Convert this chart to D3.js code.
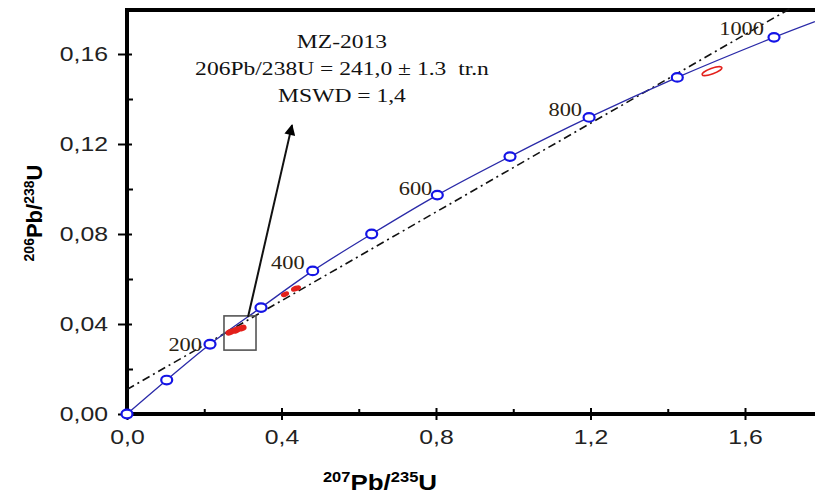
<!DOCTYPE html>
<html>
<head>
<meta charset="utf-8">
<script src="https://cdn.jsdelivr.net/npm/d3@7"></script>
<style>
  body { margin: 0; background: #fff; }
  svg { display: block; }
</style>
</head>
<body>
<svg id="chart"></svg>
<script>
// concordia points (207Pb/235U, 206Pb/238U)
var concAges = [0, 100, 200, 300, 400, 500, 600, 700, 800, 900, 1000];
var concX = [0, 0.1028, 0.2149, 0.3469, 0.4808, 0.6335, 0.8034, 0.9916, 1.1963, 1.4247, 1.6751];
var concY = [0, 0.0151, 0.0310, 0.0473, 0.0636, 0.0800, 0.0973, 0.1144, 0.1318, 0.1496, 0.1674];
// where the curve leaves the picture on the right
var concEndX = 1.781, concEndY = 0.1744;

// labelled ages
var labelAges = ["200", "400", "600", "800", "1000"];

// dash-dot discordia line, two end points
var discX = [0, 1.715];
var discY = [0.0109, 0.18];

// red error ellipses: centre x, centre y
var ellX = [0.2667, 0.2822, 0.2977, 0.4091, 0.4375, 1.5146];
var ellY = [0.0364, 0.0373, 0.0382, 0.0532, 0.0558, 0.1524];

// zoom box and arrow (data units)
var boxX = [0.2511, 0.3340], boxY = [0.0284, 0.0436];
var arrowX = [0.3133, 0.4272], arrowY = [0.0431, 0.1284];

var xTicks = [0, 0.4, 0.8, 1.2, 1.6], xMinor = [0.2, 0.6, 1.0, 1.4];
var yTicks = [0, 0.04, 0.08, 0.12, 0.16], yMinor = [0.02, 0.06, 0.10, 0.14];

var noteLines = ["MZ-2013", "206Pb/238U = 241,0 \u00b1 1.3\u00a0\u00a0tr.n", "MSWD = 1,4"];

var W = 815, H = 495;
var sx = 1.18; // picture is stretched sideways

var svg = d3.select("#chart").attr("width", W).attr("height", H);

var x = d3.scaleLinear().domain([0, 1.8]).range([127, 822.25]);
var y = d3.scaleLinear().domain([0, 0.18]).range([414, 9]);

var comma = function(n, k) { return n.toFixed(k).replace(".", ","); };

// ---- axes ----
var sans = "'Liberation Sans', Arial, sans-serif";

var gx = svg.append("g").attr("transform", "translate(0,414)")
    .call(d3.axisBottom(x).tickValues(xTicks).tickSize(6).tickPadding(9.5)
        .tickFormat(function(d) { return comma(d, 1); }));
gx.selectAll("text").attr("transform", "scale(" + sx + ",1)");
svg.append("g").attr("transform", "translate(0,414)")
    .call(d3.axisTop(x).tickValues(xTicks).tickSize(6).tickFormat(""));
svg.append("g").attr("transform", "translate(0,414)")
    .call(d3.axisTop(x).tickValues(xMinor).tickSize(5).tickFormat(""));

var gy = svg.append("g").attr("transform", "translate(127,0)")
    .call(d3.axisLeft(y).tickValues(yTicks).tickSize(9).tickPadding(10)
        .tickFormat(function(d) { return comma(d, 2); }));
gy.selectAll("text").attr("x", -19 / sx).attr("transform", "scale(" + sx + ",1)");
svg.append("g").attr("transform", "translate(127,0)")
    .call(d3.axisRight(y).tickValues(yTicks).tickSize(5).tickFormat(""));
svg.append("g").attr("transform", "translate(127,0)")
    .call(d3.axisRight(y).tickValues(yMinor).tickSize(6).tickFormat(""));

svg.selectAll(".domain").remove();
svg.selectAll(".tick line").attr("stroke", "#000").attr("stroke-width", 2);
svg.selectAll(".tick text").attr("fill", "#222").style("font-family", sans).style("font-size", "21px");

// frame: left, bottom, top
svg.append("path")
    .attr("d", "M" + W + "," + (y(0.18) + 1) + "H127V414H" + W)
    .attr("fill", "none").attr("stroke", "#000").attr("stroke-width", 4);

// axis titles
var xt = svg.append("text")
    .attr("transform", "translate(380,490) scale(" + sx + ",1)")
    .attr("text-anchor", "middle")
    .style("font-family", sans).style("font-weight", "bold").style("font-size", "22px");
xt.append("tspan").attr("dy", -8).style("font-size", "14px").text("207");
xt.append("tspan").attr("dy", 8).text("Pb/");
xt.append("tspan").attr("dy", -8).style("font-size", "14px").text("235");
xt.append("tspan").attr("dy", 8).text("U");

var yt = svg.append("text")
    .attr("transform", "translate(42,213) rotate(-90)")
    .attr("text-anchor", "middle")
    .style("font-family", sans).style("font-weight", "bold").style("font-size", "22px");
yt.append("tspan").attr("dy", -8).style("font-size", "14px").text("206");
yt.append("tspan").attr("dy", 8).text("Pb/");
yt.append("tspan").attr("dy", -8).style("font-size", "14px").text("238");
yt.append("tspan").attr("dy", 8).text("U");

// ---- discordia ----
svg.append("line")
    .attr("x1", x(discX[0])).attr("y1", y(discY[0]))
    .attr("x2", x(discX[1])).attr("y2", y(discY[1]))
    .attr("stroke", "#111").attr("stroke-width", 1.6)
    .attr("stroke-dasharray", "8,4,2,4");

// ---- concordia curve ----
var pts = concX.map(function(v, i) { return [v, concY[i]]; });
pts.push([concEndX, concEndY]);
svg.append("path")
    .datum(pts)
    .attr("d", d3.line().x(function(d) { return x(d[0]); }).y(function(d) { return y(d[1]); })
        .curve(d3.curveCatmullRom))
    .attr("fill", "none").attr("stroke", "#2a2aa8").attr("stroke-width", 1.3);

// ---- red ellipses ----
var ellSize = [[4, 2.4], [4, 2.6], [4, 2.4], [3.5, 1.8], [4.5, 2], [10.5, 2.8]];
svg.selectAll(".ell")
    .data(ellX)
    .enter().append("ellipse")
    .attr("class", "ell")
    .attr("transform", function(d, i) { return "translate(" + x(d) + "," + y(ellY[i]) + ") rotate(-20)"; })
    .attr("rx", function(d, i) { return ellSize[i][0]; })
    .attr("ry", function(d, i) { return ellSize[i][1]; })
    .attr("fill", function(d, i) { return i < 5 ? "#e3201b" : "none"; })
    .attr("stroke", "#e3201b").attr("stroke-width", 1.5);

// ---- box and arrow ----
svg.append("rect")
    .attr("x", x(boxX[0])).attr("y", y(boxY[1]))
    .attr("width", x(boxX[1]) - x(boxX[0])).attr("height", y(boxY[0]) - y(boxY[1]))
    .attr("fill", "none").attr("stroke", "#555").attr("stroke-width", 1.6);

svg.append("defs").append("marker")
    .attr("id", "head").attr("viewBox", "0 0 10 10")
    .attr("refX", 9).attr("refY", 5)
    .attr("markerWidth", 16).attr("markerHeight", 11)
    .attr("markerUnits", "userSpaceOnUse")
    .attr("orient", "auto")
    .append("path").attr("d", "M0,0L10,5L0,10Z").attr("fill", "#000");

svg.append("line")
    .attr("x1", x(arrowX[0])).attr("y1", y(arrowY[0]))
    .attr("x2", x(arrowX[1])).attr("y2", y(arrowY[1]))
    .attr("stroke", "#111").attr("stroke-width", 2)
    .attr("marker-end", "url(#head)");

// ---- concordia markers ----
svg.selectAll(".mk")
    .data(concX)
    .enter().append("ellipse")
    .attr("class", "mk")
    .attr("cx", function(d) { return x(d); })
    .attr("cy", function(d, i) { return y(concY[i]); })
    .attr("rx", 5.5).attr("ry", 4.3)
    .attr("fill", "#fff").attr("stroke", "#1414e6").attr("stroke-width", 2.2);

// ---- age labels ----
var serif = "'Liberation Serif', 'Times New Roman', serif";
var labelDx = [-8, -8, -5, -7, -10];
var labelDy = [7, -2, -0.5, -1, -2];
labelAges.forEach(function(a, i) {
    var k = concAges.indexOf(+a);
    svg.append("text")
        .attr("transform", "translate(" + (x(concX[k]) + labelDx[i]) + "," + (y(concY[k]) + labelDy[i]) + ") scale(" + sx + ",1)")
        .attr("text-anchor", "end")
        .attr("fill", "#2a2212")
        .style("font-family", serif).style("font-size", "19px")
        .text(a);
});

// ---- note ----
var noteY = [48, 75, 101.5];
noteLines.forEach(function(t, i) {
    svg.append("text")
        .attr("transform", "translate(342," + noteY[i] + ") scale(1.24,1)")
        .attr("text-anchor", "middle")
        .attr("fill", "#111")
        .style("font-family", serif).style("font-size", "19px")
        .text(t);
});
</script>
</body>
</html>
